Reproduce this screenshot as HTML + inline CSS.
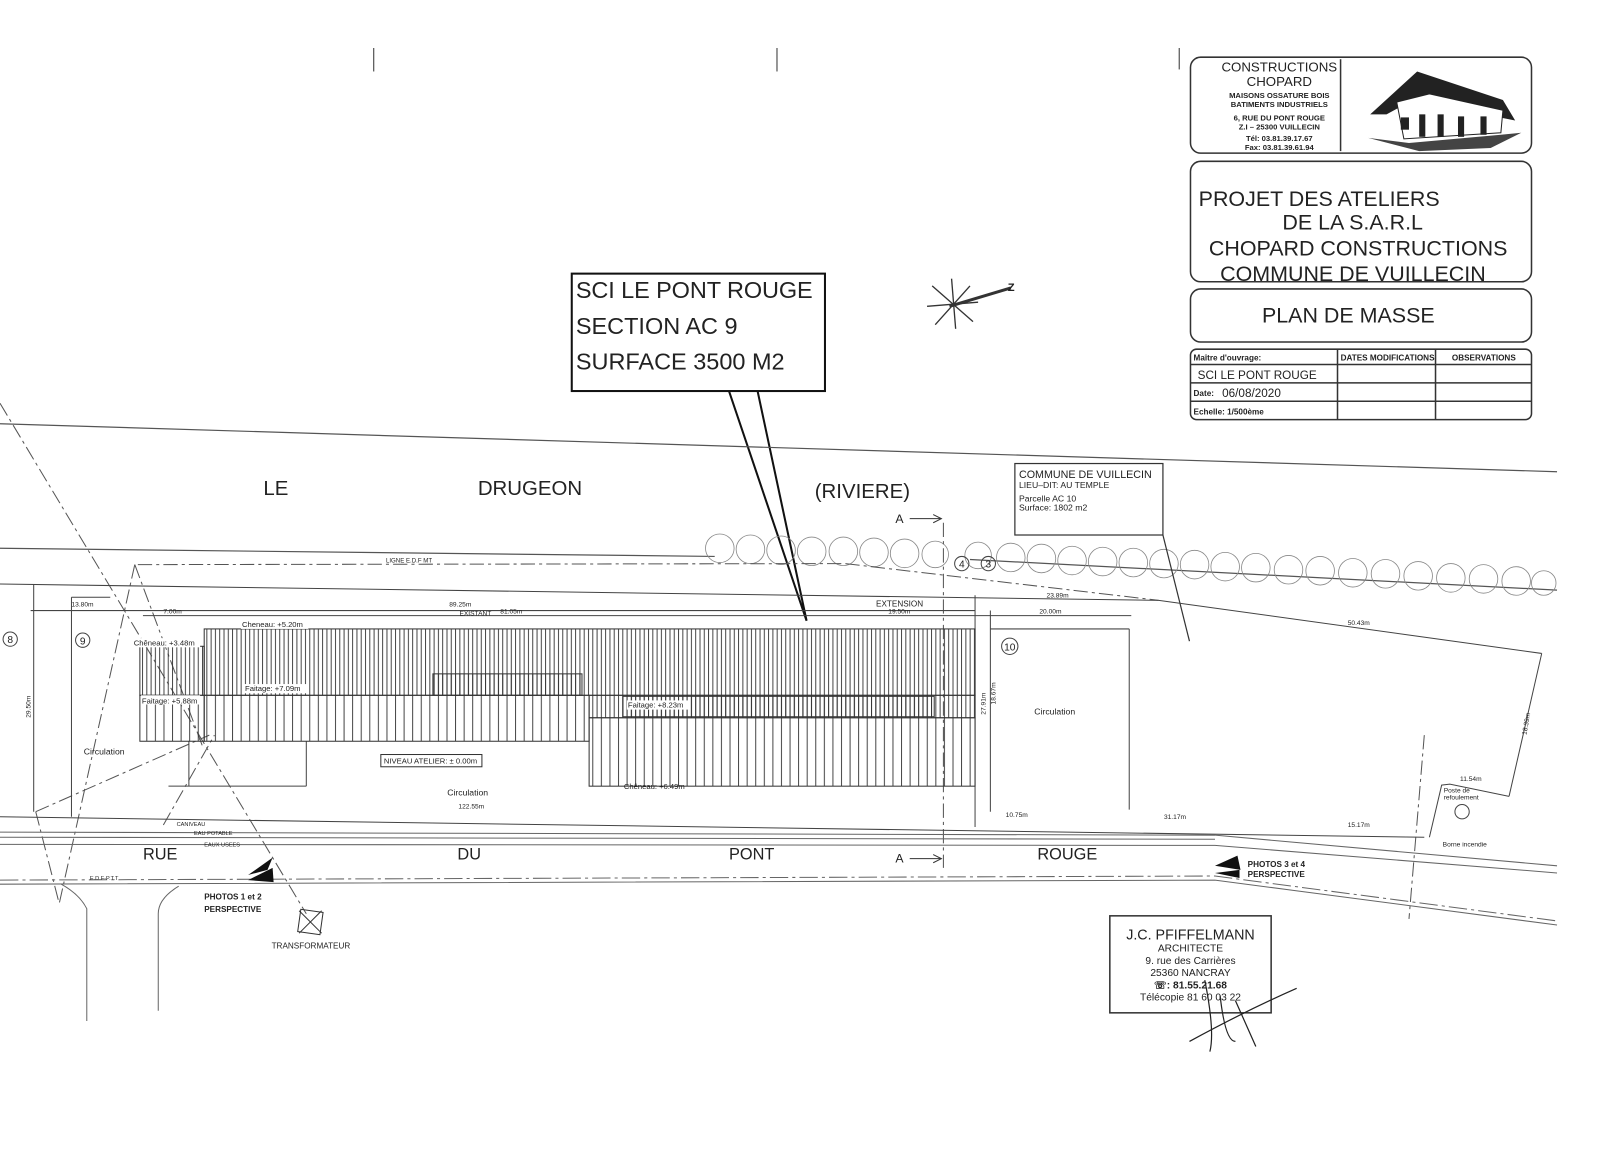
<!DOCTYPE html>
<html><head><meta charset="utf-8"><style>
html,body{margin:0;padding:0;background:#fff;}
svg{display:block;}
text{font-family:"Liberation Sans",sans-serif;fill:#222;}
</style></head><body>
<svg width="1600" height="1153" viewBox="0 0 1600 1153" xmlns="http://www.w3.org/2000/svg">
<defs>
<pattern id="h4" width="4.2" height="10" patternUnits="userSpaceOnUse"><line x1="1" y1="0" x2="1" y2="10" stroke="#333" stroke-width="0.9"/></pattern>
<pattern id="h8" width="8.4" height="10" patternUnits="userSpaceOnUse"><line x1="1" y1="0" x2="1" y2="10" stroke="#333" stroke-width="0.9"/></pattern>
</defs>
<rect width="1600" height="1153" fill="#fff"/>
<g transform="scale(1.021)">

<!-- top ticks -->
<g stroke="#555" stroke-width="1.2">
<line x1="366" y1="47" x2="366" y2="70"/><line x1="761" y1="47" x2="761" y2="70"/><line x1="1155" y1="47" x2="1155" y2="68"/>
</g>

<!-- Title block -->
<g fill="none" stroke="#333" stroke-width="1.5">
<rect x="1166" y="56" width="334" height="94" rx="10"/>
<line x1="1313" y1="58" x2="1313" y2="148"/>
<rect x="1166" y="158" width="334" height="118" rx="10"/>
<rect x="1166" y="283" width="334" height="52" rx="10"/>
<rect x="1166" y="342" width="334" height="69" rx="6"/>
<line x1="1310" y1="342" x2="1310" y2="411"/><line x1="1406" y1="342" x2="1406" y2="411"/>
<line x1="1166" y1="357" x2="1500" y2="357"/><line x1="1166" y1="375" x2="1500" y2="375"/><line x1="1166" y1="393" x2="1500" y2="393"/>
</g>
<g text-anchor="middle">
<text x="1253" y="70" font-size="13">CONSTRUCTIONS</text>
<text x="1253" y="84" font-size="13">CHOPARD</text>
<text x="1253" y="96" font-size="7.5" font-weight="bold">MAISONS OSSATURE BOIS</text>
<text x="1253" y="105" font-size="7.5" font-weight="bold">BATIMENTS INDUSTRIELS</text>
<text x="1253" y="118" font-size="7.5" font-weight="bold">6, RUE DU PONT ROUGE</text>
<text x="1253" y="127" font-size="7.5" font-weight="bold">Z.I  –  25300 VUILLECIN</text>
<text x="1253" y="138" font-size="7.5" font-weight="bold">Tél:  03.81.39.17.67</text>
<text x="1253" y="147" font-size="7.5" font-weight="bold">Fax:  03.81.39.61.94</text>
</g>
<!-- house drawing -->
<g>
<polygon points="1342,112 1388,70 1472,98 1484,118 1454,112 1380,100 1358,112" fill="#222"/>
<polygon points="1368,100 1400,92 1472,108 1470,130 1375,136" fill="#fff" stroke="#222"/>
<rect x="1372" y="115" width="8" height="12" fill="#222"/><rect x="1390" y="112" width="6" height="22" fill="#222"/><rect x="1408" y="112" width="6" height="22" fill="#222"/><rect x="1428" y="114" width="6" height="20" fill="#222"/><rect x="1450" y="114" width="6" height="18" fill="#222"/>
<path d="M1340,135 L1380,140 L1470,132 L1490,130 L1460,145 L1390,148 Z" fill="#444"/>
</g>
<g font-size="21" fill="#333">
<text x="1174" y="202">PROJET DES  ATELIERS</text>
<text x="1256" y="225">DE  LA  S.A.R.L</text>
<text x="1184" y="250">CHOPARD  CONSTRUCTIONS</text>
<text x="1195" y="275">COMMUNE  DE  VUILLECIN</text>
<text x="1236" y="316">PLAN  DE  MASSE</text>
</g>
<g font-size="8" font-weight="bold">
<text x="1169" y="353">Maître  d'ouvrage:</text>
<text x="1313" y="353">DATES  MODIFICATIONS</text>
<text x="1422" y="353">OBSERVATIONS</text>
<text x="1169" y="406">Echelle:  1/500ème</text>
<text x="1169" y="388">Date:</text>
</g>
<text x="1173" y="371" font-size="11.5">SCI LE PONT ROUGE</text>
<text x="1197" y="389" font-size="11.5">06/08/2020</text>

<!-- callout box -->
<rect x="560" y="268" width="248" height="115" fill="#fff" stroke="#111" stroke-width="2"/>
<g font-size="23" fill="#111"><text x="564" y="292" textLength="232">SCI LE PONT ROUGE</text><text x="564" y="327">SECTION AC 9</text><text x="564" y="362">SURFACE 3500 M2</text></g>
<polyline points="714,383 790,608 742,383" fill="none" stroke="#111" stroke-width="2"/>

<!-- compass -->
<g stroke="#333" stroke-width="1.3">
<line x1="908" y1="300" x2="958" y2="296"/><line x1="932" y1="273" x2="936" y2="322"/><line x1="913" y1="280" x2="953" y2="315"/><line x1="916" y1="318" x2="950" y2="280"/>
<line x1="930" y1="300" x2="990" y2="282" stroke-width="3"/>
</g>
<text x="987" y="285" font-size="11" font-weight="bold">Z</text>

<!-- river banks -->
<g stroke="#555" stroke-width="1.2" fill="none">
<line x1="0" y1="415" x2="1525" y2="462"/>
<line x1="0" y1="537" x2="700" y2="545"/>
<line x1="950" y1="548" x2="1525" y2="578"/>
</g>
<g font-size="20" fill="#555">
<text x="258" y="485">LE</text><text x="468" y="485">DRUGEON</text><text x="798" y="488">(RIVIERE)</text>
</g>

<!-- trees -->
<g fill="none" stroke="#888" stroke-width="0.8">
<circle cx="705" cy="537" r="14"/><circle cx="735" cy="538" r="14"/><circle cx="765" cy="539" r="14"/><circle cx="795" cy="540" r="14"/><circle cx="826" cy="540" r="14"/><circle cx="856" cy="541" r="14"/><circle cx="886" cy="542" r="14"/><circle cx="916" cy="543" r="13"/><circle cx="958" cy="544" r="13"/><circle cx="990" cy="546" r="14"/><circle cx="1020" cy="547" r="14"/><circle cx="1050" cy="549" r="14"/><circle cx="1080" cy="550" r="14"/><circle cx="1110" cy="551" r="14"/><circle cx="1140" cy="552" r="14"/><circle cx="1170" cy="553" r="14"/><circle cx="1200" cy="555" r="14"/><circle cx="1230" cy="556" r="14"/><circle cx="1262" cy="558" r="14"/><circle cx="1293" cy="559" r="14"/><circle cx="1325" cy="561" r="14"/><circle cx="1357" cy="562" r="14"/><circle cx="1389" cy="564" r="14"/><circle cx="1421" cy="566" r="14"/><circle cx="1453" cy="567" r="14"/><circle cx="1485" cy="569" r="14"/><circle cx="1512" cy="571" r="12"/>
</g>

<!-- commune box -->
<rect x="994" y="454" width="145" height="70" fill="#fff" stroke="#333" stroke-width="1.2"/>
<line x1="1139" y1="524" x2="1165" y2="628" stroke="#333" stroke-width="1.2"/>
<g font-size="10.5"><text x="998" y="468">COMMUNE  DE  VUILLECIN</text></g>
<g font-size="8.5"><text x="998" y="478">LIEU–DIT:  AU  TEMPLE</text><text x="998" y="491">Parcelle  AC  10</text><text x="998" y="500">Surface:  1802  m2</text></g>

<!-- dashed EDF line & diagonals -->
<g stroke="#555" stroke-width="1" fill="none" stroke-dasharray="14,4,3,4">
<line x1="135" y1="553" x2="828" y2="552"/>
<line x1="828" y1="552" x2="1135" y2="588"/>
<line x1="0" y1="395" x2="300" y2="895"/>
<line x1="132" y1="553" x2="58" y2="885"/>
<line x1="132" y1="553" x2="198" y2="730"/>
<line x1="35" y1="795" x2="205" y2="720"/>
<line x1="35" y1="795" x2="58" y2="885"/>
<line x1="160" y1="808" x2="210" y2="720"/>
<line x1="924" y1="512" x2="924" y2="850"/>
<line x1="1395" y1="720" x2="1380" y2="900"/>
</g>
<g font-size="6" fill="#555"><text x="378" y="551">LIGNE E.D.F MT</text></g>

<!-- lot outline -->
<g stroke="#444" stroke-width="1" fill="none">
<line x1="0" y1="572" x2="1135" y2="588"/>
<line x1="1135" y1="588" x2="1510" y2="640"/>
<line x1="1510" y1="640" x2="1478" y2="780"/>
<polyline points="1478,780 1420,768 1412,769 1400,820"/>
<line x1="0" y1="800" x2="1395" y2="820"/>
<line x1="33" y1="572" x2="33" y2="795"/>
<line x1="70" y1="585" x2="70" y2="800"/><line x1="70" y1="585" x2="108" y2="585"/>
<line x1="30" y1="598" x2="955" y2="598"/>
<line x1="140" y1="603" x2="1108" y2="603"/>
<line x1="955" y1="583" x2="955" y2="810"/>
<line x1="970" y1="616" x2="1106" y2="616"/><line x1="1106" y1="616" x2="1106" y2="793"/>
<line x1="970" y1="598" x2="970" y2="795"/>
<line x1="300" y1="726" x2="300" y2="770"/><line x1="165" y1="770" x2="300" y2="770"/>
<line x1="185" y1="726" x2="185" y2="770"/>
</g>
<g font-size="6.5">
<text x="70" y="594">13.80m</text><text x="440" y="594">89.25m</text><text x="450" y="603">EXISTANT</text><text x="490" y="601">81.05m</text><text x="160" y="601">7.00m</text>
<text x="858" y="594" font-size="8">EXTENSION</text><text x="870" y="601">19.50m</text><text x="1018" y="601">20.00m</text>
<text x="1025" y="585">23.89m</text><text x="1320" y="612">50.43m</text><text x="449" y="792">122.55m</text>
<text x="985" y="800">10.75m</text><text x="1140" y="802">31.17m</text><text x="1320" y="810">15.17m</text><text x="1430" y="765">11.54m</text>
<text x="1414" y="776">Poste de</text><text x="1414" y="783">refoulement</text><text x="1413" y="829">Borne  incendie</text>
<text x="1013" y="700" font-size="8.5">Circulation</text><text x="438" y="779" font-size="8.5">Circulation</text><text x="82" y="739" font-size="8.5">Circulation</text>
</g>
<circle cx="1432" cy="795" r="7" fill="none" stroke="#444"/>
<g font-size="6.5"><text transform="translate(30,703) rotate(-90)">29.50m</text><text transform="translate(965,700) rotate(-90)">27.91m</text><text transform="translate(975,690) rotate(-90)">18.67m</text><text transform="translate(1495,720) rotate(-80)">18.39m</text></g>

<!-- circled numbers -->
<g fill="none" stroke="#444"><circle cx="10" cy="626" r="7"/><circle cx="81" cy="627" r="7"/><circle cx="989" cy="633" r="8"/><circle cx="942" cy="552" r="7"/><circle cx="968" cy="552" r="7"/></g>
<g font-size="10" text-anchor="middle"><text x="10" y="630">8</text><text x="81" y="631">9</text><text x="989" y="637">10</text><text x="942" y="556">4</text><text x="968" y="556">3</text></g>

<!-- buildings -->
<g stroke="#333" stroke-width="1">
<rect x="137" y="633" width="63" height="48" fill="url(#h4)"/>
<rect x="137" y="681" width="63" height="45" fill="url(#h8)"/>
<rect x="200" y="616" width="755" height="65" fill="url(#h4)"/>
<rect x="200" y="681" width="377" height="45" fill="url(#h8)"/>
<rect x="577" y="681" width="378" height="22" fill="url(#h4)"/>
<rect x="577" y="703" width="378" height="67" fill="url(#h8)"/>
<rect x="424" y="660" width="146" height="21" fill="url(#h4)"/>
<rect x="610" y="682" width="305" height="20" fill="url(#h4)"/>
</g>
<g font-size="7.5">
<rect x="236" y="607" width="66" height="9" fill="#fff"/><text x="237" y="614">Cheneau: +5.20m</text>
<rect x="130" y="625" width="66" height="9" fill="#fff"/><text x="131" y="632">Chêneau: +3.48m</text>
<rect x="138" y="681" width="58" height="9" fill="#fff"/><text x="139" y="689">Faitage: +5.88m</text>
<rect x="239" y="670" width="62" height="9" fill="#fff"/><text x="240" y="677">Faitage: +7.09m</text>
<rect x="614" y="686" width="62" height="9" fill="#fff"/><text x="615" y="693">Faitage: +8.23m</text>
<text x="611" y="773">Chêneau:  +6.49m</text>
</g>
<rect x="373" y="739" width="99" height="12" fill="#fff" stroke="#333"/><text x="376" y="748" font-size="7.5">NIVEAU ATELIER: ± 0.00m</text>

<!-- road -->
<g stroke="#666" fill="none" stroke-width="1">
<line x1="0" y1="815" x2="1190" y2="818"/>
<line x1="0" y1="820" x2="1190" y2="822"/>
<polyline points="0,827 1190,828 1525,855"/>
<polyline points="1190,818 1525,848"/>
<polyline points="0,862 1190,858 1525,902" stroke-dasharray="18,4,3,4"/>
<polyline points="0,866 1190,862 1525,906"/>
<path d="M155,990 L155,895 Q155,880 175,868"/>
<path d="M85,1000 L85,890 Q78,876 60,866"/>
</g>
<g font-size="16" fill="#555"><text x="140" y="842">RUE</text><text x="448" y="842">DU</text><text x="714" y="842">PONT</text><text x="1016" y="842">ROUGE</text></g>
<g font-size="5.5" fill="#777"><text x="173" y="809">CANIVEAU</text><text x="190" y="818">EAU POTABLE</text><text x="200" y="829">EAUX USEES</text><text x="88" y="862">E.D.F-P.T.T</text></g>
<!-- section marks -->
<g font-size="12"><text x="877" y="512">A</text><text x="877" y="845">A</text></g>
<g stroke="#333" fill="none"><line x1="891" y1="508" x2="922" y2="508"/><polyline points="914,504 922,508 914,512"/><line x1="891" y1="841" x2="922" y2="841"/><polyline points="914,837 922,841 914,845"/></g>
<!-- photo arrows -->
<g fill="#111"><polygon points="243,857 267,840 262,852"/><polygon points="243,862 267,850 268,864"/><polygon points="1190,848 1212,838 1215,852"/><polygon points="1190,855 1214,852 1214,860"/></g>
<g font-size="8" font-weight="bold"><text x="200" y="881">PHOTOS  1  et  2</text><text x="200" y="893">PERSPECTIVE</text><text x="1222" y="849">PHOTOS  3  et  4</text><text x="1222" y="859">PERSPECTIVE</text></g>
<!-- transformateur -->
<g stroke="#333" fill="none"><rect x="293" y="892" width="22" height="22" transform="rotate(8 304 903)"/><line x1="293" y1="892" x2="315" y2="914"/><line x1="315" y1="892" x2="293" y2="914"/></g>
<text x="266" y="929" font-size="8">TRANSFORMATEUR</text>

<!-- architect stamp -->
<rect x="1087" y="897" width="158" height="95" fill="none" stroke="#333" stroke-width="1.5"/>
<g text-anchor="middle" fill="#333"><text x="1166" y="920" font-size="14">J.C. PFIFFELMANN</text><text x="1166" y="932" font-size="10">ARCHITECTE</text><text x="1166" y="944" font-size="10">9. rue des Carrières</text><text x="1166" y="956" font-size="10">25360 NANCRAY</text><text x="1166" y="968" font-size="10" font-weight="bold">☏: 81.55.21.68</text><text x="1166" y="980" font-size="10">Télécopie   81 60 03 22</text></g>
<g stroke="#222" fill="none" stroke-width="1.2"><path d="M1180,960 Q1190,1010 1185,1030 M1195,975 Q1200,1020 1210,1020 M1210,980 L1230,1025 M1165,1020 Q1220,990 1270,968"/></g>
</g>
</svg>
</body></html>
